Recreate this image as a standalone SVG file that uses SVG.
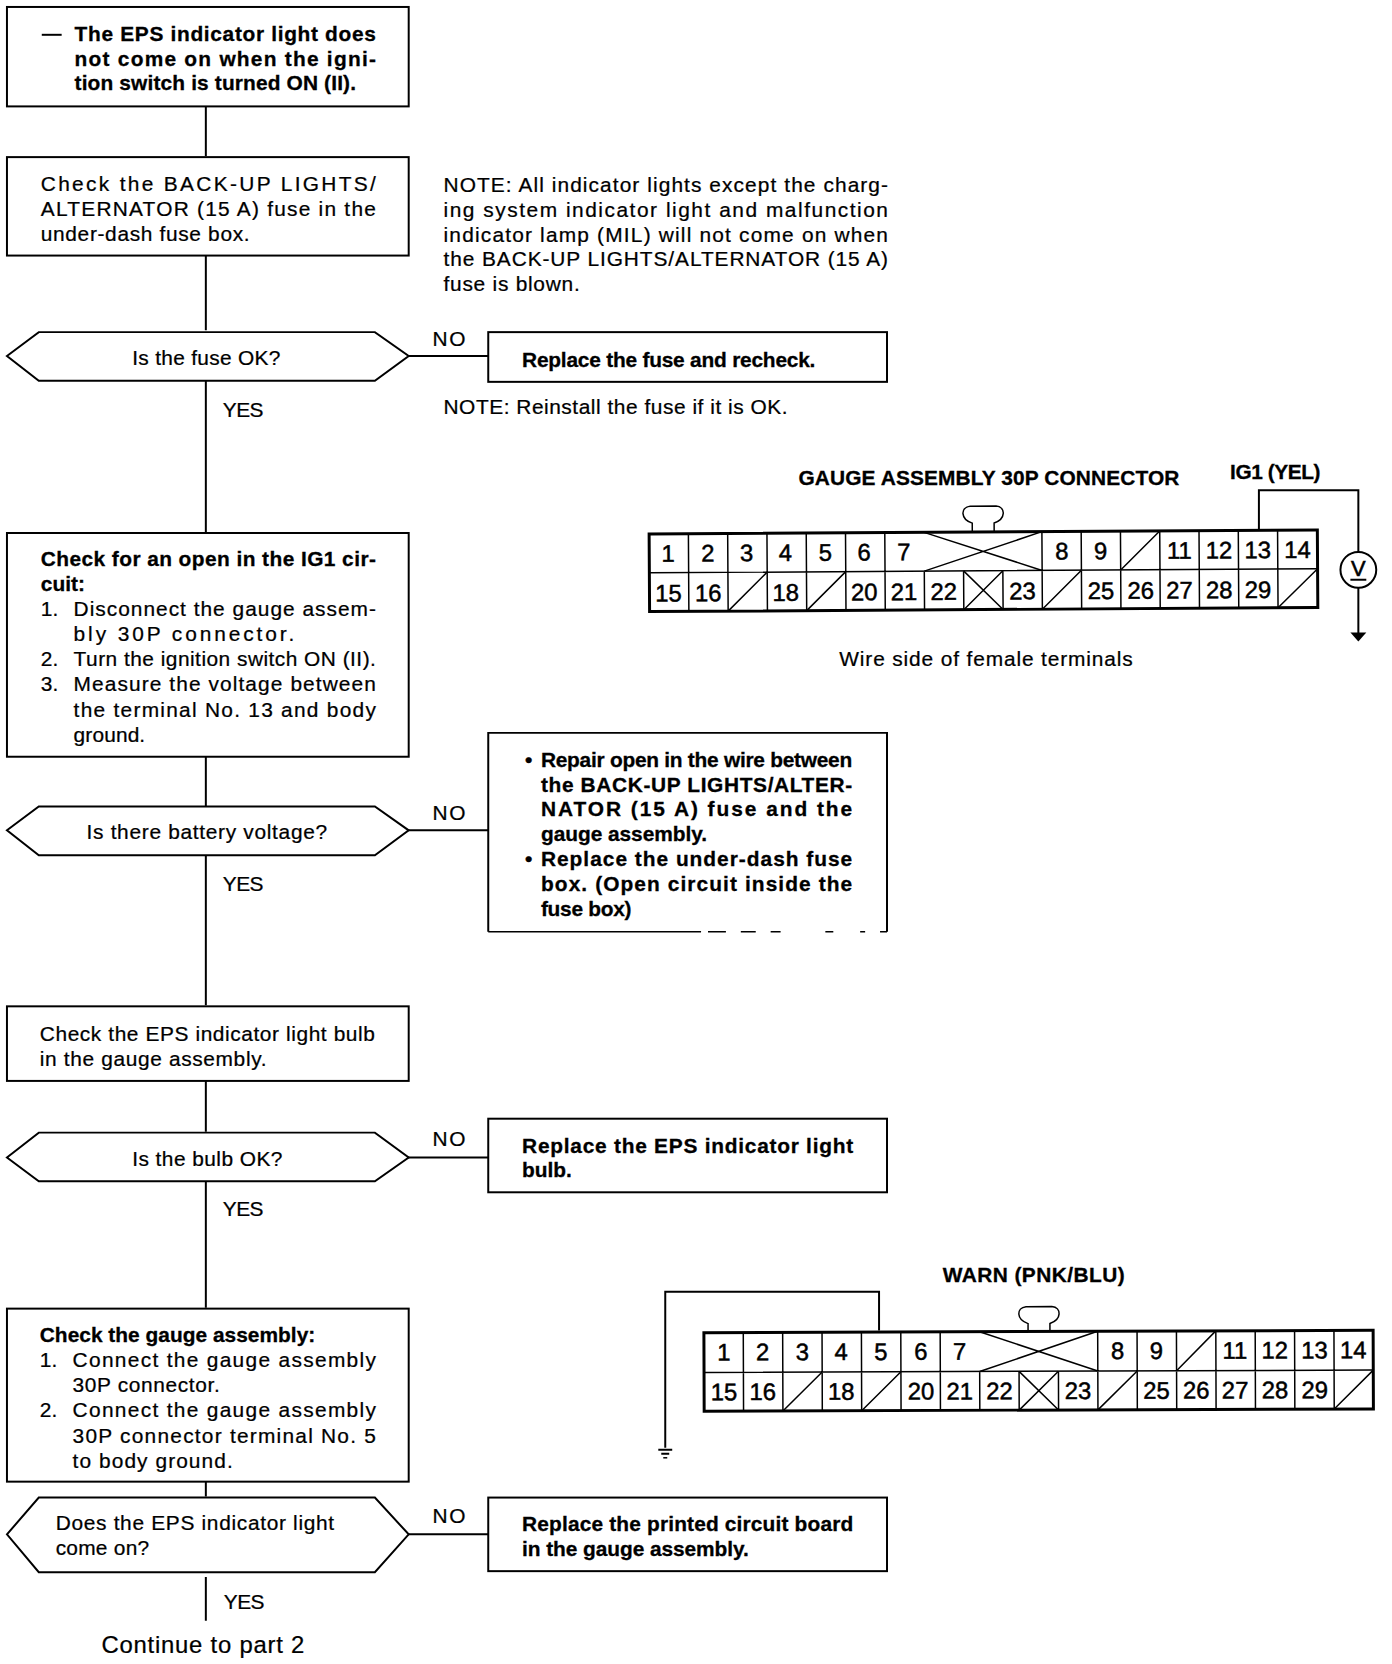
<svg xmlns="http://www.w3.org/2000/svg" width="1392" height="1664" viewBox="0 0 1392 1664">
<style>
text{font-family:"Liberation Sans",Arial,sans-serif;font-size:21px;fill:#000;stroke:#000;stroke-width:.25}
.b{font-weight:bold;stroke-width:.3}
.n{font-size:24px;text-anchor:middle;stroke-width:.5}
.box{fill:#fff;stroke:#000;stroke-width:2}
.c{fill:none;stroke:#000;stroke-width:2}
.g{stroke:#000;stroke-width:1.5;fill:none}
.h{stroke:#000;stroke-width:3;fill:none}
</style>
<rect width="1392" height="1664" fill="#fff"/>
<g transform="scale(0.9944)">
<g id="connectors">
<path class="c" d="M207 107V157M207 257V332M207 381V535M207 761V811M207 860V1011M207 1087V1138M207 1188V1315M207 1490V1505M207 1586V1630M408 358H491M408 835H491M408 1164H491M408 1543H491"/>
</g>
<g id="n1"><rect class="box" x="7" y="7" width="404" height="100"/>
<path d="M42 35H62" class="c"/>
<text class="b" x="75" y="41" textLength="303">The EPS indicator light does</text>
<text class="b" x="75" y="66" textLength="303">not come on when the igni-</text>
<text class="b" x="75" y="91" textLength="283">tion switch is turned ON (II).</text></g>
<g id="n2"><rect class="box" x="7" y="158" width="404" height="99"/>
<text x="41" y="192" textLength="337">Check the BACK-UP LIGHTS/</text>
<text x="41" y="217" textLength="337">ALTERNATOR (15 A) fuse in the</text>
<text x="41" y="242" textLength="210">under-dash fuse box.</text></g>
<g id="note1">
<text x="446" y="193" textLength="447">NOTE: All indicator lights except the charg-</text>
<text x="446" y="218" textLength="447">ing system indicator light and malfunction</text>
<text x="446" y="243" textLength="447">indicator lamp (MIL) will not come on when</text>
<text x="446" y="268" textLength="447">the BACK-UP LIGHTS/ALTERNATOR (15 A)</text>
<text x="446" y="293" textLength="137">fuse is blown.</text></g>
<g id="d1"><polygon class="box" points="7,358 39,334 377,334 411,358 377,383 39,383"/>
<text x="133" y="367" textLength="149">Is the fuse OK?</text></g>
<g id="r1"><rect class="box" x="491" y="334" width="401" height="50"/>
<text class="b" x="525" y="369" textLength="295">Replace the fuse and recheck.</text></g>
<text x="435" y="348" textLength="33">NO</text>
<text x="224" y="419" textLength="41">YES</text>
<text x="446" y="416" textLength="346">NOTE:  Reinstall the fuse if it is OK.</text>
<g id="n3"><rect class="box" x="7" y="536" width="404" height="225"/>
<text class="b" x="41" y="569" textLength="337">Check for an open in the IG1 cir-</text>
<text class="b" x="41" y="594">cuit:</text>
<text x="41" y="619">1.</text><text x="74" y="619" textLength="304">Disconnect the gauge assem-</text>
<text x="74" y="645" textLength="222">bly 30P connector.</text>
<text x="41" y="670">2.</text><text x="74" y="670" textLength="304">Turn the ignition switch ON (II).</text>
<text x="41" y="695">3.</text><text x="74" y="695" textLength="304">Measure the voltage between</text>
<text x="74" y="721" textLength="304">the terminal No. 13 and body</text>
<text x="74" y="746" textLength="72">ground.</text></g>
<g id="d2"><polygon class="box" points="7,835 39,811 377,811 411,835 377,860 39,860"/>
<text x="87" y="844" textLength="242">Is there battery voltage?</text></g>
<text x="435" y="825" textLength="33">NO</text>
<text x="224" y="896" textLength="41">YES</text>
<g id="r2">
<path class="c" d="M491 937V737H892V937"/><path d="M491 937H705M712 937H730M745 937H760M775 937H785M830 937H838M865 937H870M885 937H892" stroke="#000" stroke-width="1.5" fill="none"/>
<text class="b" x="528" y="771">•</text><text class="b" x="544" y="771" textLength="313">Repair open in the wire between</text>
<text class="b" x="544" y="796" textLength="313">the BACK-UP LIGHTS/ALTER-</text>
<text class="b" x="544" y="821" textLength="313">NATOR (15 A) fuse and the</text>
<text class="b" x="544" y="846" textLength="167">gauge assembly.</text>
<text class="b" x="528" y="871">•</text><text class="b" x="544" y="871" textLength="313">Replace the under-dash fuse</text>
<text class="b" x="544" y="896" textLength="313">box. (Open circuit inside the</text>
<text class="b" x="544" y="921" textLength="91">fuse box)</text></g>
<g id="n4"><rect class="box" x="7" y="1012" width="404" height="75"/>
<text x="40" y="1047" textLength="337">Check the EPS indicator light bulb</text>
<text x="40" y="1072" textLength="228">in the gauge assembly.</text></g>
<g id="d3"><polygon class="box" points="7,1164 39,1139 377,1139 411,1164 377,1188 39,1188"/>
<text x="133" y="1173" textLength="151">Is the bulb OK?</text></g>
<text x="435" y="1152" textLength="33">NO</text>
<text x="224" y="1223" textLength="41">YES</text>
<g id="r3"><rect class="box" x="491" y="1125" width="401" height="74"/>
<text class="b" x="525" y="1159" textLength="333">Replace the EPS indicator light</text>
<text class="b" x="525" y="1184" textLength="50">bulb.</text></g>
<g id="n5"><rect class="box" x="7" y="1316" width="404" height="174"/>
<text class="b" x="40" y="1350" textLength="277">Check the gauge assembly:</text>
<text x="40" y="1375">1.</text><text x="73" y="1375" textLength="305">Connect the gauge assembly</text>
<text x="73" y="1400" textLength="148">30P connector.</text>
<text x="40" y="1425">2.</text><text x="73" y="1425" textLength="305">Connect the gauge assembly</text>
<text x="73" y="1451" textLength="305">30P connector terminal No. 5</text>
<text x="73" y="1476" textLength="161">to body ground.</text></g>
<g id="d4"><polygon class="box" points="7,1543 39,1506 377,1506 411,1543 377,1581 39,1581"/>
<text x="56" y="1539" textLength="280">Does the EPS indicator light</text>
<text x="56" y="1564" textLength="94">come on?</text></g>
<text x="435" y="1532" textLength="33">NO</text>
<text x="225" y="1618" textLength="41">YES</text>
<g id="r4"><rect class="box" x="491" y="1506" width="401" height="74"/>
<text class="b" x="525" y="1540" textLength="333">Replace the printed circuit board</text>
<text class="b" x="525" y="1565" textLength="228">in the gauge assembly.</text></g>
<text x="102" y="1662" textLength="204" style="font-size:24px">Continue to part 2</text>

<g id="connector-top" transform="rotate(-0.35 989 573)">
<path class="h" d="M653 535H1325V613H653Z"/>
<path class="g" d="M978 534V526C966 522 966 510 976 509H1002C1012 510 1012 522 1000 526V534" fill="#fff" stroke-width="2"/>
<path class="g" d="M653 574H1325M692.500 535V613M732 535V613M771.500 535V613M811 535V613M850.500 535V613M890 535V613M929.500 574V613M969 574V613M1008.500 574V613M1048 535V613M1087.500 535V613M1127 535V613M1166.500 535V613M1206 535V613M1245.500 535V613M1285 535V613"/>
<path class="g" d="M929.500 535L1048 574M929.500 574L1048 535M969 574L1008.500 613M969 613L1008.500 574M1127 574L1166.500 535M732 613L771.500 574M811 613L850.500 574M1048 613L1087.500 574M1285 613L1325 574"/>
<text class="n" x="672" y="563">1</text><text class="n" x="712" y="563">2</text><text class="n" x="751" y="563">3</text><text class="n" x="790" y="563">4</text><text class="n" x="830" y="563">5</text><text class="n" x="869" y="563">6</text><text class="n" x="909" y="563">7</text><text class="n" x="1068" y="563">8</text><text class="n" x="1107" y="563">9</text><text class="n" x="1186" y="563">11</text><text class="n" x="1226" y="563">12</text><text class="n" x="1265" y="563">13</text><text class="n" x="1305" y="563">14</text>
<text class="n" x="672" y="603">15</text><text class="n" x="712" y="603">16</text><text class="n" x="790" y="603">18</text><text class="n" x="869" y="603">20</text><text class="n" x="909" y="603">21</text><text class="n" x="949" y="603">22</text><text class="n" x="1028" y="603">23</text><text class="n" x="1107" y="603">25</text><text class="n" x="1147" y="603">26</text><text class="n" x="1186" y="603">27</text><text class="n" x="1226" y="603">28</text><text class="n" x="1265" y="603">29</text>
</g>
<text class="b" x="803" y="488" textLength="383">GAUGE ASSEMBLY 30P CONNECTOR</text>
<text class="b" x="1237" y="482" textLength="91">IG1 (YEL)</text>
<text x="844" y="670" textLength="295">Wire side of female terminals</text>
<g id="meter">
<path class="c" d="M1266 533V493H1366V555M1366 591V637"/>
<circle cx="1366" cy="573" r="18" fill="#fff" stroke="#000" stroke-width="2"/>
<text x="1366" y="579" style="font-size:22px;text-anchor:middle;stroke-width:.6">V</text>
<path class="c" d="M1358 583H1374"/>
<polygon points="1358,636 1374,636 1366,645"/>
</g>

<g id="connector-bottom" transform="rotate(-0.2 1045 1378)">
<path class="h" d="M708 1339H1381V1418H708Z"/>
<path class="g" d="M1034 1338V1331C1022 1327 1022 1315 1032 1314H1058C1068 1315 1068 1327 1056 1331V1338" fill="#fff" stroke-width="2"/>
<path class="g" d="M708 1379H1381M747.600 1339V1418M787.200 1339V1418M826.800 1339V1418M866.400 1339V1418M906 1339V1418M945.600 1339V1418M985.200 1379V1418M1024.800 1379V1418M1064.400 1379V1418M1104 1339V1418M1143.600 1339V1418M1183.200 1339V1418M1222.800 1339V1418M1262.400 1339V1418M1302 1339V1418M1341.600 1339V1418"/>
<path class="g" d="M985.200 1339L1104 1379M985.200 1379L1104 1339M1024.800 1379L1064.400 1418M1024.800 1418L1064.400 1379M1183.200 1379L1222.800 1339M787.200 1418L826.800 1379M866.400 1418L906 1379M1104 1418L1143.600 1379M1341.600 1418L1381 1379"/>
<text class="n" x="728" y="1367">1</text><text class="n" x="767" y="1367">2</text><text class="n" x="807" y="1367">3</text><text class="n" x="846" y="1367">4</text><text class="n" x="886" y="1367">5</text><text class="n" x="926" y="1367">6</text><text class="n" x="965" y="1367">7</text><text class="n" x="1124" y="1367">8</text><text class="n" x="1163" y="1367">9</text><text class="n" x="1242" y="1367">11</text><text class="n" x="1282" y="1367">12</text><text class="n" x="1322" y="1367">13</text><text class="n" x="1361" y="1367">14</text>
<text class="n" x="728" y="1407">15</text><text class="n" x="767" y="1407">16</text><text class="n" x="846" y="1407">18</text><text class="n" x="926" y="1407">20</text><text class="n" x="965" y="1407">21</text><text class="n" x="1005" y="1407">22</text><text class="n" x="1084" y="1407">23</text><text class="n" x="1163" y="1407">25</text><text class="n" x="1203" y="1407">26</text><text class="n" x="1242" y="1407">27</text><text class="n" x="1282" y="1407">28</text><text class="n" x="1322" y="1407">29</text>
</g>
<text class="b" x="948" y="1289" textLength="183">WARN (PNK/BLU)</text>
<g id="ground-wire">
<path class="c" d="M884 1338V1299H669V1456"/>
<path class="c" d="M662 1458H676M665 1462H673"/><path d="M667 1466H671" stroke="#000" stroke-width="1.500"/>
</g>
</g>
</svg>
